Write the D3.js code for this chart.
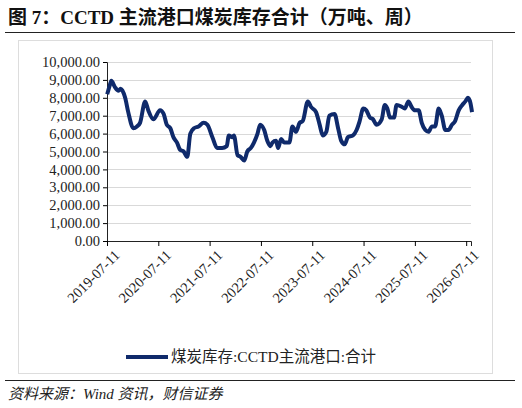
<!DOCTYPE html>
<html><head><meta charset="utf-8">
<script src="https://cdn.jsdelivr.net/npm/d3@7"></script>
<style>body{margin:0;background:#fff}svg{display:block}</style>
</head><body>
<script>
// decimal-year positions of samples
const years = [2019.53,2019.58,2019.61,2019.68,2019.75,2019.79,2019.88,2019.94,2020.04,2020.11,2020.17,2020.27,2020.33,2020.43,2020.56,2020.63,2020.69,2020.76,2020.82,2020.89,2020.95,2021.02,2021.09,2021.15,2021.22,2021.31,2021.41,2021.48,2021.58,2021.67,2021.77,2021.86,2021.90,2021.97,2022.00,2022.07,2022.13,2022.20,2022.26,2022.33,2022.39,2022.46,2022.51,2022.59,2022.65,2022.71,2022.75,2022.82,2022.86,2022.92,2022.98,2023.08,2023.14,2023.21,2023.28,2023.34,2023.44,2023.50,2023.60,2023.67,2023.73,2023.80,2023.86,2023.96,2024.03,2024.09,2024.16,2024.22,2024.32,2024.39,2024.45,2024.52,2024.58,2024.65,2024.71,2024.78,2024.88,2024.94,2024.99,2025.04,2025.12,2025.17,2025.27,2025.33,2025.40,2025.46,2025.53,2025.60,2025.66,2025.73,2025.79,2025.86,2025.92,2025.99,2026.05,2026.12,2026.18,2026.25,2026.31,2026.38,2026.45,2026.51,2026.56,2026.61,2026.64];
const values = [8200,8700,8950,8600,8400,8500,8000,7200,6300,6400,6600,7800,7300,6800,7300,7100,6500,6300,5800,5500,5100,5000,4700,6000,6300,6400,6600,6500,5800,5200,5200,5300,5900,5800,5900,4800,4700,4500,5000,5200,5500,6000,6500,6200,5600,5300,5500,5600,5200,5700,5500,5500,6400,6100,6600,6700,7800,7500,7200,6500,5900,6100,7000,7100,6300,5600,5400,5800,5900,6200,6700,7400,7300,6900,6800,6500,6800,7600,7400,6900,6900,7600,7500,7400,7800,7500,7300,7300,6600,6200,6100,6400,6400,7400,7000,6200,6200,6500,6700,7300,7600,7800,8000,7700,7200];
const tickYears = [2019,2020,2021,2022,2023,2024,2025,2026];
const tickLabels = tickYears.map(y => y + "-07-11");
const yTicks = d3.range(0, 10001, 1000);

const svg = d3.select("body").append("svg").attr("width",522).attr("height",408);
const serif = "'Liberation Serif','Noto Sans CJK SC',serif";
svg.append("text").attr("x",8).attr("y",24).attr("font-family",serif).attr("font-weight","bold")
  .attr("font-size",19).attr("fill","#111").text("图 7：CCTD  主流港口煤炭库存合计（万吨、周）");
svg.append("line").attr("x1",5).attr("x2",515).attr("y1",32.5).attr("y2",32.5).attr("stroke","#222").attr("stroke-width",1.2);
svg.append("rect").attr("x",18.5).attr("y",40.5).attr("width",474).attr("height",333).attr("fill","none").attr("stroke","#ddd");
svg.append("line").attr("x1",5).attr("x2",515).attr("y1",380.5).attr("y2",380.5).attr("stroke","#222").attr("stroke-width",1.2);
svg.append("text").attr("x",8).attr("y",399).attr("font-family",serif).attr("font-style","italic")
  .attr("font-size",15).attr("fill","#222").text("资料来源：Wind 资讯，财信证券");

const x = d3.scaleLinear().domain([2019.526, 2026.62]).range([107, 471]);
const y = d3.scaleLinear().domain([0, 10000]).range([241, 62]);
const g = svg.append("g");
g.selectAll("line.grid").data(yTicks.slice(1)).join("line").attr("x1",107).attr("x2",471)
  .attr("y1",d=>Math.round(y(d))+0.5).attr("y2",d=>Math.round(y(d))+0.5).attr("stroke","#d9d9d9");
const ya = g.append("g").attr("transform","translate(107,0)")
  .call(d3.axisLeft(y).tickValues(yTicks).tickSize(4).tickFormat(d3.format(",.2f")));
ya.selectAll("text").attr("font-family",serif).attr("font-size",14.5).attr("fill","#222");
ya.select(".domain").attr("stroke","#222");
const xa = g.append("g").attr("transform","translate(0,241)")
  .call(d3.axisBottom(x).tickValues(tickYears.map(v=>v+0.526)).tickSize(5).tickFormat((d,i)=>tickLabels[i]));
xa.select(".domain").attr("stroke","#222");
xa.selectAll("text").attr("font-family",serif).attr("font-size",14.5).attr("fill","#222")
  .attr("text-anchor","end").attr("transform","translate(4,6) rotate(-45)").attr("dy","0.35em");
const data = years.map((d,i)=>[d,values[i]]);
g.append("path").datum(data).attr("fill","none").attr("stroke","#0f2a6b").attr("stroke-width",4)
  .attr("stroke-linejoin","round").attr("d", d3.line().x(d=>x(d[0])).y(d=>y(d[1])).curve(d3.curveMonotoneX));
svg.append("line").attr("x1",126).attr("x2",168).attr("y1",357).attr("y2",357).attr("stroke","#0f2a6b").attr("stroke-width",4);
svg.append("text").attr("x",171).attr("y",362).attr("font-family",serif).attr("font-size",15.5).attr("fill","#222")
  .text("煤炭库存:CCTD主流港口:合计");
</script></body></html>
